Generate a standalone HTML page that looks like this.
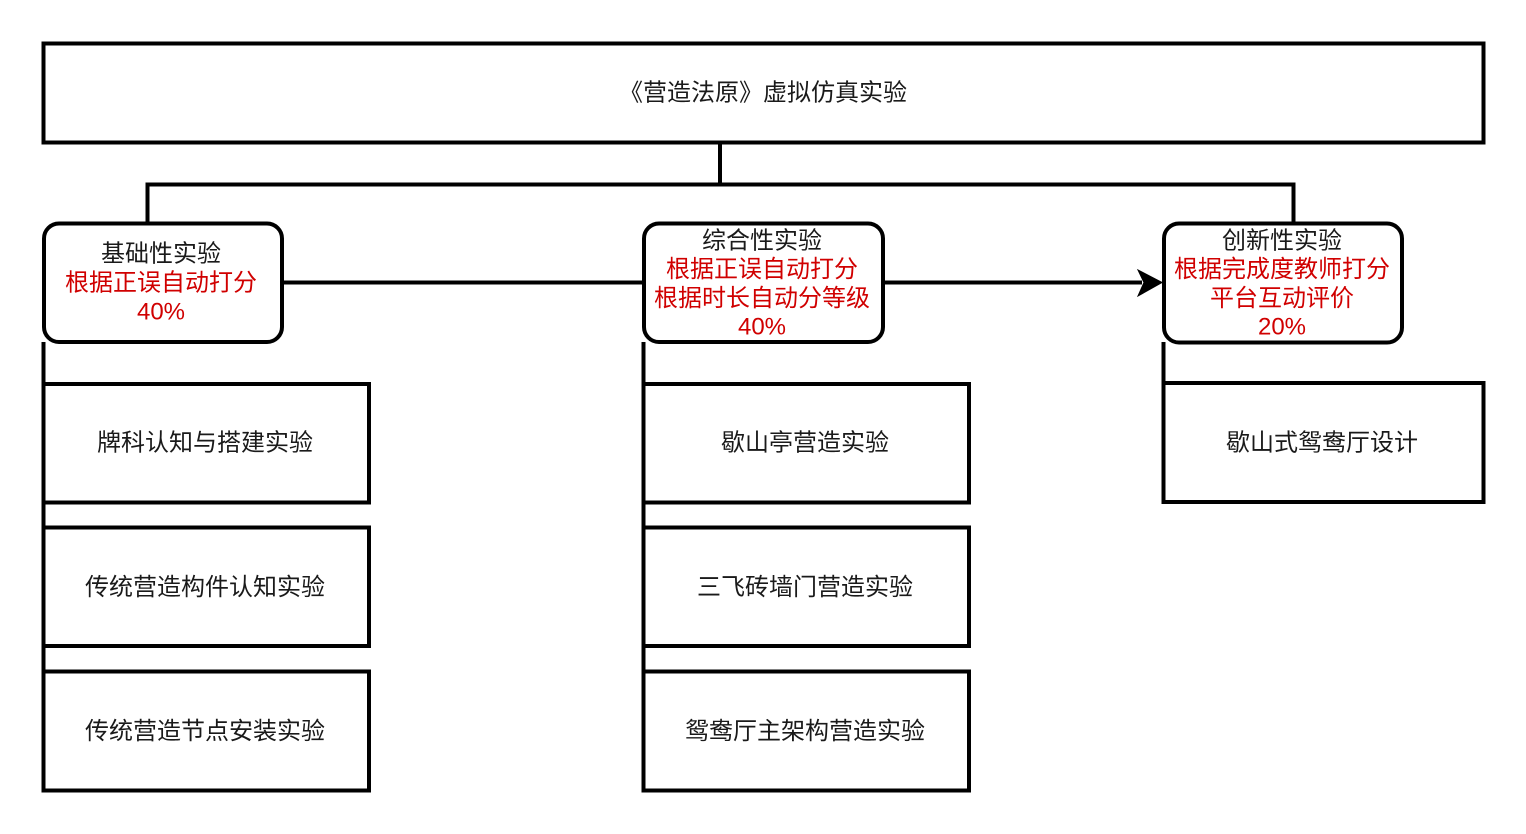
<!DOCTYPE html>
<html>
<head>
<meta charset="utf-8">
<style>
  html, body { margin: 0; padding: 0; background: #ffffff; }
  svg { display: block; }
  text { font-family: "Liberation Sans", "Noto Sans CJK SC", sans-serif; font-size: 24px; }
  .k { fill: #1a1a1a; }
  .r { fill: #d00000; }
</style>
</head>
<body>
<svg width="1526" height="834" viewBox="0 0 1526 834" xmlns="http://www.w3.org/2000/svg">
  <rect x="0" y="0" width="1526" height="834" fill="#ffffff"/>
  <g fill="none" stroke="#000" stroke-width="4">
    <rect x="43.5" y="43.5" width="1440" height="99"/>
    <polyline points="720,143 720,184.5"/>
    <polyline points="147.5,224 147.5,184.5 1293.5,184.5 1293.5,224"/>
    <line x1="282" y1="282.5" x2="644" y2="282.5"/>
    <line x1="883" y1="282.5" x2="1142" y2="282.5"/>
    <line x1="43.5" y1="342" x2="43.5" y2="790"/>
    <line x1="643.5" y1="342" x2="643.5" y2="790"/>
    <line x1="1163.5" y1="342" x2="1163.5" y2="502"/>
  </g>
  <polygon points="1162,282.5 1138,270 1144,282.5 1138,296" fill="#000" stroke="#000" stroke-width="1"/>

  <g fill="#fff" stroke="#000" stroke-width="4">
    <rect x="44" y="223.5" width="238" height="118.5" rx="15" ry="15"/>
    <rect x="644" y="223.5" width="239" height="118.5" rx="15" ry="15"/>
    <rect x="1164" y="223.5" width="238" height="119" rx="15" ry="15"/>
    <rect x="43.5" y="384" width="325.5" height="118.5"/>
    <rect x="43.5" y="527.5" width="325.5" height="118.5"/>
    <rect x="43.5" y="671.5" width="325.5" height="119"/>
    <rect x="643.5" y="384" width="325.5" height="118.5"/>
    <rect x="643.5" y="527.5" width="325.5" height="118.5"/>
    <rect x="643.5" y="671.5" width="325.5" height="119"/>
    <rect x="1163.5" y="383" width="320" height="119"/>
  </g>

  <g text-anchor="middle">
    <text class="k" x="763" y="100.5">《营造法原》虚拟仿真实验</text>

    <text class="k" x="161" y="261.5">基础性实验</text>
    <text class="r" x="161" y="290.5">根据正误自动打分</text>
    <text class="r" x="161" y="319.5">40%</text>

    <text class="k" x="762" y="248.5">综合性实验</text>
    <text class="r" x="762" y="277">根据正误自动打分</text>
    <text class="r" x="762" y="306">根据时长自动分等级</text>
    <text class="r" x="762" y="334.5">40%</text>

    <text class="k" x="1282" y="248.5">创新性实验</text>
    <text class="r" x="1282" y="277">根据完成度教师打分</text>
    <text class="r" x="1282" y="306">平台互动评价</text>
    <text class="r" x="1282" y="334.5">20%</text>

    <text class="k" x="205" y="450.5">牌科认知与搭建实验</text>
    <text class="k" x="205" y="595">传统营造构件认知实验</text>
    <text class="k" x="205" y="739">传统营造节点安装实验</text>

    <text class="k" x="805" y="450.5">歇山亭营造实验</text>
    <text class="k" x="805" y="595">三飞砖墙门营造实验</text>
    <text class="k" x="805" y="739">鸳鸯厅主架构营造实验</text>

    <text class="k" x="1322" y="450.5">歇山式鸳鸯厅设计</text>
  </g>
</svg>
</body>
</html>
